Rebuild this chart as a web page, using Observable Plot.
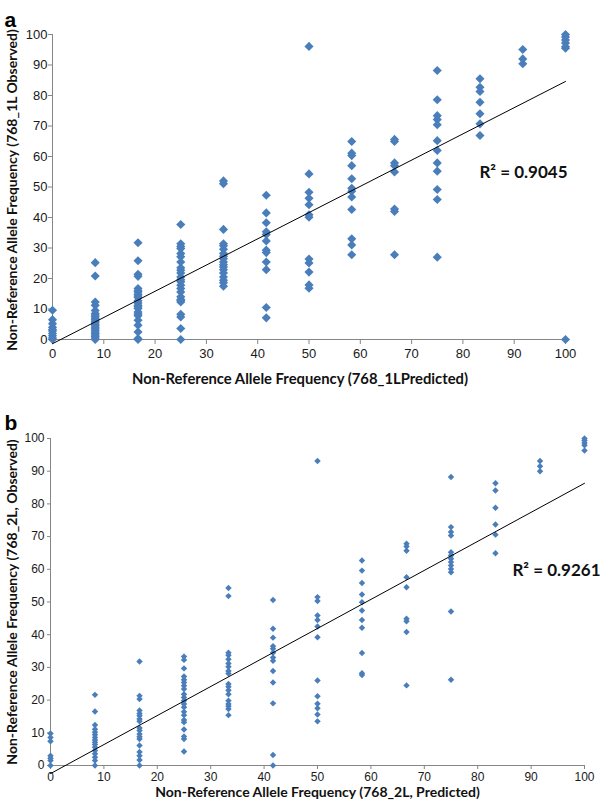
<!DOCTYPE html>
<html><head><meta charset="utf-8">
<script src="https://cdn.jsdelivr.net/npm/d3@7"></script>
<script src="https://cdn.jsdelivr.net/npm/@observablehq/plot@0.6"></script>
<style>
body{margin:0;background:#fff;}
#wrap{position:relative;width:600px;height:804px;overflow:hidden;background:#fff;}
#wrap svg{position:absolute;left:0;}
</style></head><body><div id="wrap"></div>
<script>
// Predicted allele frequency levels (x categories, %)
const predictedLevels = [0, 8.33, 16.67, 25, 33.33, 41.67, 50, 58.33, 66.67, 75, 83.33, 91.67, 100];

// Panel a: observed values per predicted level
const observedA = [
  [0, 0.5, 1.2, 2, 2.8, 3.3, 4, 5.2, 6.5, 9.6],
  [25.2, 20.8, 12.3, 11.2, 9.5, 8.5, 8, 7.5, 7, 6.5, 6, 5.5, 5, 4.5, 4, 3.5, 3, 2.5, 2, 1.5, 1, 0.5, 0],
  [31.7, 25.8, 21.4, 20.7, 16.7, 16, 15.6, 14.8, 14.3, 13.8, 12.7, 12, 11.2, 10.7, 10.2, 9, 8.4, 7.8, 6.3, 4.7, 2.5, 0.3, 0],
  [37.7, 31.4, 30.5, 29.8, 28.2, 27.1, 25.4, 23.5, 22.7, 21.8, 20.5, 19.6, 18.9, 17.8, 16.7, 15.6, 14, 13.1, 12.8, 12.3, 8.3, 7.4, 3.6, 0],
  [52, 51.1, 36.1, 31.4, 30.7, 29.6, 28.2, 27.3, 26.5, 25.4, 24.5, 23.8, 22.9, 21.8, 20.5, 19.4, 18.6, 17.5],
  [47.3, 41.5, 38.3, 35.3, 34.4, 32.3, 29.3, 28.5, 25.4, 22.9, 10.5, 7.1],
  [96.1, 54.3, 48.3, 46.3, 44.2, 40.9, 40.1, 26.4, 25.1, 22.1, 17.9, 16.8],
  [64.9, 61.1, 60.3, 57, 52.7, 49.6, 48.6, 46.7, 42.6, 33, 31, 27.8],
  [65.6, 64.9, 57.9, 57, 54.9, 42.8, 42, 27.8],
  [88.2, 78.6, 73.4, 72.1, 70.4, 65.2, 62, 57.9, 55.2, 49.2, 45.9, 27],
  [85.5, 82.7, 81.3, 77.8, 74, 70.7, 66.9],
  [95.1, 92, 90.4],
  [100, 99.2, 98.2, 97.2, 96, 95.5, 0]
];

// Panel b: observed values per predicted level
const observedB = [
  [9.8, 8.6, 7.4, 3, 2.2, 1.5, 0],
  [21.6, 16.5, 12.4, 11.1, 10.2, 9.4, 8.6, 7.8, 7.1, 6.4, 5.6, 4.6, 3.6, 2.5, 1.5, 0],
  [31.8, 21.3, 20.3, 16.8, 15.9, 15.2, 14.2, 13.5, 11.5, 10.7, 9.6, 8.8, 8.1, 6.1, 4.1, 3, 1.7, 0],
  [33.3, 32.3, 29.7, 27.2, 26.2, 25.4, 24.4, 23.4, 21.8, 20.8, 19.8, 18.8, 17.8, 16.4, 15.4, 13.9, 13.2, 11, 8.9, 8.1, 4.3],
  [54.3, 51.8, 34.5, 33.7, 32.5, 31.2, 30.2, 28.9, 28.1, 24.9, 24.1, 23, 21.8, 19.8, 18.8, 18.1, 17.3, 15.4],
  [50.6, 41.8, 39.1, 36.5, 35.7, 34.5, 33, 32, 28.9, 25.4, 19, 3.2, 0],
  [93.1, 51.5, 50.3, 45.9, 44.5, 42.5, 39.2, 26, 21.2, 18.9, 17.5, 15.6, 13.5],
  [62.7, 59.6, 55.8, 52.3, 49.9, 47.4, 44.5, 42.1, 34.4, 28.2, 27.7],
  [67.8, 67, 65.7, 57.6, 54.5, 44.9, 44.1, 40.8, 24.5],
  [88.2, 72.9, 71.4, 70.3, 65.2, 64.2, 63.2, 62.2, 61.2, 60.1, 59.1, 47.1, 26.2],
  [86.3, 84.1, 78.8, 73.7, 70.6, 64.9],
  [93.1, 91.5, 90],
  [100, 99.4, 98.6, 97.9, 96.3]
];

const axisTicks = [0, 10, 20, 30, 40, 50, 60, 70, 80, 90, 100];
const panelLetters = ["a", "b"];
const xTitles = ["Non-Reference Allele Frequency (768_1LPredicted)", "Non-Reference Allele Frequency (768_2L, Predicted)"];
const yTitles = ["Non-Reference Allele Frequency (768_1L Observed)", "Non-Reference Allele Frequency (768_2L, Observed)"];
const r2Labels = ["R\u00B2 = 0.9045", "R\u00B2 = 0.9261"];

const toPoints = obs => predictedLevels.flatMap((x, j) => obs[j].map(y => ({x, y})));

const layouts = [
  {top: 0, height: 400, ml: 52, mr: 35, mt: 34, mb: 61, r: 4.1, tickFont: 13, tickSize: 4, tickPad: 1, xTickSize: 5, xTickPad: 4,
   titleFont: 14.8, xTitleDy: 44, xTitleDx: -9, yTitleDx: -40, yTitleDy: 3, r2Dx: 2, r2Dy: -14, letterDx: -48, letterDy: -22},
  {top: 400, height: 404, ml: 50, mr: 16, mt: 38, mb: 39, r: 2.9, tickFont: 12, tickSize: 3, tickPad: 3, xTickSize: 4, xTickPad: 3,
   titleFont: 14, xTitleDy: 31, xTitleDx: 0, yTitleDx: -38, yTitleDy: 0, r2Dx: 16, r2Dy: -31, letterDx: -46, letterDy: -23}
];
const colorDot = "#4a7ebb";
const axisGray = "#868686";
const titleFont = "Lato, 'Open Sans', sans-serif";

const wrap = document.getElementById("wrap");
[observedA, observedB].forEach((obs, i) => {
  const L = layouts[i];
  const pts = toPoints(obs);
  const svg = Plot.plot({
    width: 600, height: L.height,
    marginLeft: L.ml, marginRight: L.mr, marginTop: L.mt, marginBottom: L.mb,
    x: {domain: [0, 100]},
    y: {domain: [0, 100]},
    style: {fontFamily: "'Liberation Sans', Arial, sans-serif", fontSize: L.tickFont + "px", color: "#1a1a1a", background: "transparent", overflow: "visible"},
    marks: [
      Plot.axisX({ticks: axisTicks, tickSize: L.xTickSize, tickPadding: L.xTickPad, stroke: axisGray, fill: "#1a1a1a", label: null}),
      Plot.axisY({ticks: axisTicks, tickSize: L.tickSize, tickPadding: L.tickPad, stroke: axisGray, fill: "#1a1a1a", label: null}),
      Plot.ruleY([0], {stroke: axisGray}),
      Plot.ruleX([0], {stroke: axisGray}),
      Plot.dot(pts, {x: "x", y: "y", symbol: "diamond2", r: L.r, fill: colorDot, stroke: null}),
      Plot.linearRegressionY(pts, {x: "x", y: "y", stroke: "#000", strokeWidth: 1, ci: 0}),
      Plot.text([xTitles[i]], {frameAnchor: "bottom", dx: L.xTitleDx, dy: L.xTitleDy, textAnchor: "middle", text: d => d, fontFamily: titleFont, fontWeight: "bold", fontSize: L.titleFont, fill: "#111"}),
      Plot.text([yTitles[i]], {frameAnchor: "left", dx: L.yTitleDx, dy: L.yTitleDy, rotate: -90, textAnchor: "middle", text: d => d, fontFamily: titleFont, fontWeight: "bold", fontSize: 14, fill: "#111"}),
      Plot.text([r2Labels[i]], {frameAnchor: "right", dx: L.r2Dx, dy: L.r2Dy, textAnchor: "end", text: d => d, fontFamily: titleFont, fontWeight: "bold", fontSize: 17, fill: "#111"}),
      Plot.text([panelLetters[i]], {frameAnchor: "top-left", dx: L.letterDx, dy: L.letterDy, textAnchor: "start", text: d => d, fontFamily: "'Liberation Sans', Arial, sans-serif", fontWeight: "bold", fontSize: 21, fill: "#000"})
    ]
  });
  svg.style.top = L.top + "px";
  wrap.appendChild(svg);
});
</script></body></html>
